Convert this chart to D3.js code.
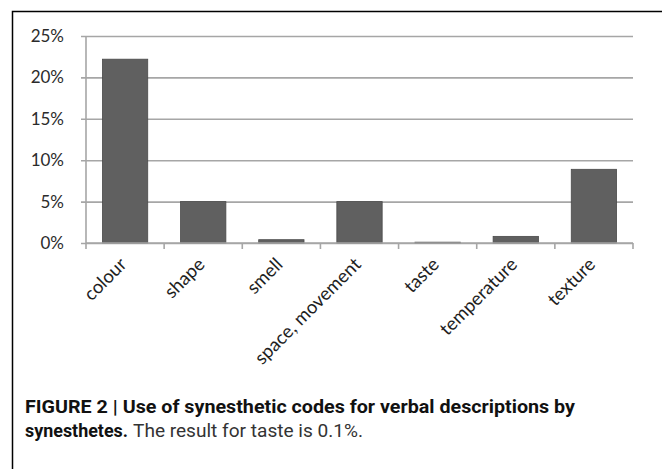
<!DOCTYPE html>
<html>
<head>
<meta charset="utf-8">
<script src="https://cdn.jsdelivr.net/npm/d3@7"></script>
<style>
  body { margin: 0; background: #fff; }
  svg { display: block; }
</style>
</head>
<body>
<div id="chart"></div>
<script>
var categories = ["colour", "shape", "smell", "space, movement", "taste", "temperature", "texture"];
var values = [22.2, 5.0, 0.4, 5.0, 0.1, 0.8, 8.9];
var yTicks = [0, 5, 10, 15, 20, 25];

var W = 662, H = 469;
var plot = {left: 86, right: 633, top: 36, bottom: 243};

var svg = d3.select("#chart").append("svg")
    .attr("width", W)
    .attr("height", H);

// figure frame (open on the right and bottom)
svg.append("path")
    .attr("d", "M12.5," + H + "V11.5H" + W)
    .attr("fill", "none")
    .attr("stroke", "#000")
    .attr("stroke-width", 1.5);

var x = d3.scaleBand()
    .domain(categories)
    .range([plot.left, plot.right])
    .paddingInner(0.42)
    .paddingOuter(0.21);

var y = d3.scaleLinear()
    .domain([0, 25])
    .range([plot.bottom, plot.top]);

// gridlines + y ticks
var yAxis = svg.append("g")
    .attr("transform", "translate(" + plot.left + ",0)")
    .call(d3.axisLeft(y)
        .tickValues(yTicks)
        .tickSize(-(plot.right - plot.left))
        .tickPadding(22)
        .tickFormat(function(d){ return d + "%"; }));
yAxis.select(".domain").remove();
yAxis.selectAll(".tick line")
    .attr("x1", -5)
    .attr("stroke", "#a6a6a6")
    .attr("stroke-width", 1.6);
yAxis.selectAll(".tick text")
    .attr("fill", "#2b2b2b")
    .style("font-family", "Lato, 'Open Sans', sans-serif")
    .style("font-size", "17px");

// vertical axis line
svg.append("line")
    .attr("x1", plot.left).attr("x2", plot.left)
    .attr("y1", plot.top).attr("y2", plot.bottom)
    .attr("stroke", "#a6a6a6")
    .attr("stroke-width", 1.6);

// bars
svg.append("g")
    .selectAll("rect")
    .data(values)
    .join("rect")
        .attr("x", function(d, i){ return x(categories[i]); })
        .attr("width", x.bandwidth())
        .attr("y", function(d){ return y(d); })
        .attr("height", function(d){ return y(0) - y(d); })
        .attr("fill", "#606060")
        .attr("stroke", "#4a4a4a")
        .attr("stroke-width", 0.8);

// x axis line with boundary ticks
var step = x.step();
var bounds = d3.range(categories.length + 1).map(function(i){ return plot.left + i * step; });
svg.append("line")
    .attr("x1", plot.left).attr("x2", plot.right)
    .attr("y1", plot.bottom).attr("y2", plot.bottom)
    .attr("stroke", "#a6a6a6")
    .attr("stroke-width", 1.6);
svg.append("g")
    .selectAll("line")
    .data(bounds)
    .join("line")
        .attr("x1", function(d){ return d; })
        .attr("x2", function(d){ return d; })
        .attr("y1", plot.bottom)
        .attr("y2", plot.bottom + 6)
        .attr("stroke", "#a6a6a6")
        .attr("stroke-width", 1.6);

// rotated category labels
svg.append("g")
    .selectAll("text")
    .data(categories)
    .join("text")
        .attr("transform", function(d){
            return "translate(" + (x(d) + x.bandwidth() / 2 - 2) + "," + (plot.bottom + 18) + ") rotate(-45)";
        })
        .attr("text-anchor", "end")
        .attr("dy", "0.35em")
        .attr("fill", "#1e1e1e")
        .style("font-family", "Lato, 'Open Sans', sans-serif")
        .style("font-size", "18.5px")
        .text(function(d){ return d; });

// caption
var cap = svg.append("g")
    .style("font-family", "'Liberation Sans Narrow', 'Roboto', sans-serif")
    .style("font-size", "19px")
    .attr("fill", "#111");

cap.append("text")
    .attr("x", 25)
    .attr("y", 413)
    .attr("font-weight", "bold")
    .attr("textLength", 550)
    .attr("lengthAdjust", "spacingAndGlyphs")
    .text("FIGURE 2 | Use of synesthetic codes for verbal descriptions by");

cap.append("text")
    .attr("x", 25)
    .attr("y", 437)
    .attr("font-weight", "bold")
    .attr("textLength", 103)
    .attr("lengthAdjust", "spacingAndGlyphs")
    .text("synesthetes.");

cap.append("text")
    .attr("x", 133)
    .attr("y", 437)
    .attr("fill", "#333")
    .attr("textLength", 230)
    .attr("lengthAdjust", "spacingAndGlyphs")
    .text("The result for taste is 0.1%.");
</script>
</body>
</html>
